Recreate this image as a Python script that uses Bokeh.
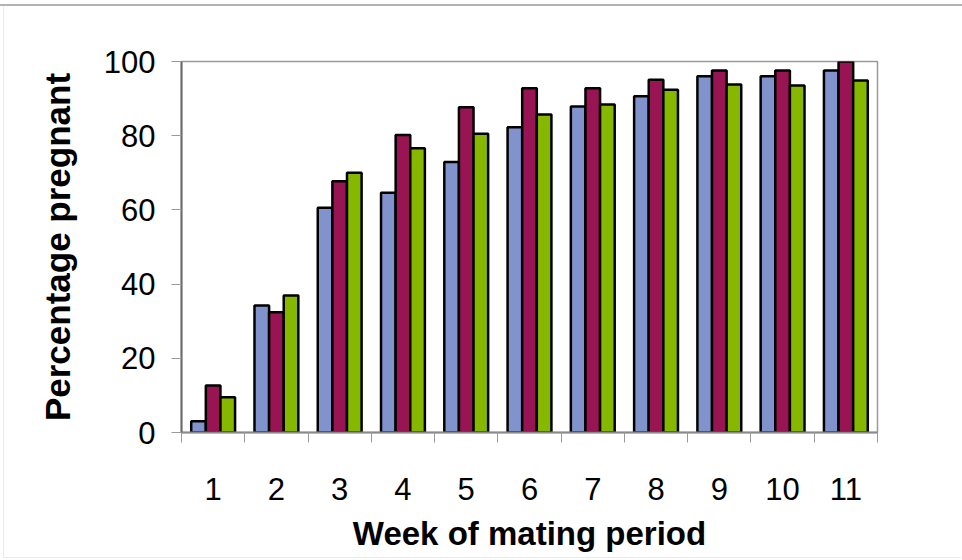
from bokeh.plotting import figure
from bokeh.models import FixedTicker, Range1d, ColumnDataSource
from bokeh.transform import dodge
from bokeh.embed import file_html
from bokeh.resources import INLINE

# Weekly cumulative pregnancy rates (%) for three groups
weeks = [1, 2, 3, 4, 5, 6, 7, 8, 9, 10, 11]
group_a = [3.0, 34.2, 60.6, 64.6, 72.9, 82.3, 87.9, 90.6, 96.0, 96.0, 97.6]
group_b = [12.7, 32.4, 67.7, 80.2, 87.7, 92.8, 92.8, 95.1, 97.6, 97.6, 100.0]
group_c = [9.5, 36.9, 70.0, 76.6, 80.5, 85.7, 88.4, 92.4, 93.8, 93.5, 94.9]
y_ticks = [0, 20, 40, 60, 80, 100]

source = ColumnDataSource(dict(week=weeks, a=group_a, b=group_b, c=group_c))

p = figure(width=962, height=560, output_backend="svg", toolbar_location=None,
           x_range=Range1d(0.5, 11.5), y_range=Range1d(0, 100),
           min_border_left=181, min_border_right=85,
           min_border_top=61, min_border_bottom=128)
p.background_fill_color = "white"
# transparent border area so the page rules drawn by CSS show through
p.border_fill_alpha = 0
p.styles = {
    "background-color": "white",
    "background-image": ("linear-gradient(#b4b4b4, #b4b4b4), "
                         "linear-gradient(#ebebeb, #ebebeb), "
                         "linear-gradient(#ebebeb, #ebebeb)"),
    "background-size": "100% 2px, 1px 552px, 958px 1px",
    "background-position": "0 4px, 3px 5px, 3px 557px",
    "background-repeat": "no-repeat",
}
p.outline_line_color = "#9a9a9a"
p.outline_line_width = 1.5
p.xgrid.visible = False
p.ygrid.visible = False

bar_w = 0.231
fills = ["#8093cc", "#981452", "#86b800"]
for off, col, fill in zip([-bar_w, 0.0, bar_w], ["a", "b", "c"], fills):
    p.vbar(x=dodge("week", off, range=p.x_range), top=col, bottom=0,
           width=bar_w, source=source, fill_color=fill,
           line_color="black", line_width=2.5)

# x axis: labels at the category centres, tick marks between categories
xa = p.xaxis[0]
xa.ticker = FixedTicker(ticks=weeks, minor_ticks=[w - 0.5 for w in weeks] + [11.5])
xa.major_tick_out = 0
xa.major_tick_in = 0
xa.minor_tick_out = 10
xa.minor_tick_in = 0
xa.minor_tick_line_color = "#9a9a9a"
xa.axis_line_color = "#8a8a8a"
xa.axis_line_width = 2
xa.major_label_text_font = "Liberation Sans"
xa.major_label_text_font_size = "31px"
xa.major_label_text_color = "black"
xa.major_label_standoff = 35
xa.axis_label = "Week of mating period"
xa.axis_label_text_font = "Liberation Sans"
xa.axis_label_text_font_style = "bold"
xa.axis_label_text_font_size = "33px"
xa.axis_label_text_color = "black"
xa.axis_label_standoff = 12

ya = p.yaxis[0]
ya.ticker = FixedTicker(ticks=y_ticks)
ya.major_tick_out = 10
ya.major_tick_in = 0
ya.minor_tick_out = 0
ya.minor_tick_in = 0
ya.major_tick_line_color = "#9a9a9a"
ya.axis_line_color = "#6a6a6a"
ya.axis_line_width = 2
ya.major_label_text_font = "Liberation Sans"
ya.major_label_text_font_size = "31px"
ya.major_label_text_color = "black"
ya.major_label_standoff = 16
ya.axis_label = "Percentage pregnant"
ya.axis_label_text_font = "Liberation Sans"
ya.axis_label_text_font_style = "bold"
ya.axis_label_text_font_size = "35px"
ya.axis_label_text_color = "black"
ya.axis_label_standoff = 24

open("out.html", "w").write(file_html(p, INLINE))
